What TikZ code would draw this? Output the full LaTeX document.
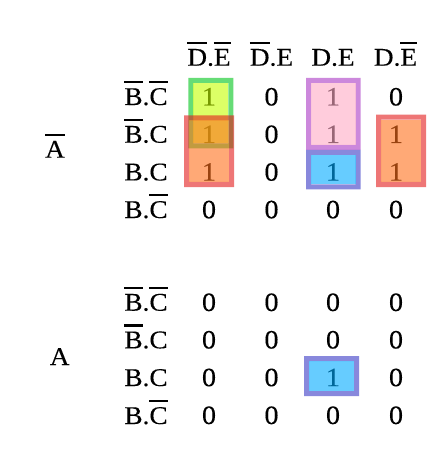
\documentclass[tikz,border=0pt]{standalone}
\usepackage{fontspec}
\setmainfont{Liberation Serif}[FakeStretch=1.07, FakeBold=0.2]
\newcommand\ob[1]{\leavevmode\vbox{\hrule height 2.3pt\kern 5pt\hbox{#1}}}
\definecolor{gfill}{RGB}{198,255,0}
\definecolor{gline}{RGB}{0,198,28}
\definecolor{ofill}{RGB}{255,113,28}
\definecolor{oline}{RGB}{227,28,28}
\definecolor{pfill}{RGB}{255,170,198}
\definecolor{pline}{RGB}{170,57,198}
\definecolor{bfill}{RGB}{0,170,255}
\definecolor{bline}{RGB}{57,57,198}
\newcommand\kbox[6]{%
  \fill[#6, fill opacity=0.6, even odd rule] (#1,#2) rectangle (#3,#4) (#1+5,#2+5) rectangle (#3-5,#4-5);
  \fill[#5, fill opacity=0.6] (#1+5,#2+5) rectangle (#3-5,#4-5);}
\begin{document}
\begin{tikzpicture}[x=1pt,y=-1pt,
  txt/.style={inner sep=0pt, anchor=base, font=\fontsize{25.5}{30}\selectfont},
  num/.style={inner sep=0pt, anchor=base, font=\fontsize{26.5}{30}\selectfont}]
\useasboundingbox (0,0) rectangle (442,462);
\fill[white] (0,0) rectangle (442,462);
% headers
\node[txt] (h1) at (209,65.7) {\ob{D}.\ob{E}};
\node[txt] (h2) at (271.5,65.7) {\ob{D}.E};
\node[txt] (h3) at (333,65.7) {D.E};
\node[txt] (h4) at (395.5,65.7) {D.\ob{E}};
% group labels
\node[txt] (na) at (55,157.7) {\ob{A}};
\node[txt] (a) at (59.7,365) {A};
% row labels
\foreach \y/\n in {105/1,310.7/5}{
  \node[txt] (r\n) at (146,\y) {\ob{B}.\ob{C}};}
\foreach \y/\n in {142.7/2,348.3/6}{
  \node[txt] (r\n) at (146,\y) {\ob{B}.C};}
\foreach \y/\n in {180.4/3,386/7}{
  \node[txt] (r\n) at (146,\y) {B.C};}
\foreach \y/\n in {218/4,424/8}{
  \node[txt] (r\n) at (146,\y) {B.\ob{C}};}
% cells
\foreach \row/\y/\va/\vb/\vc/\vd in {
  1/105.5/1/0/1/0, 2/143/1/0/1/1, 3/180.7/1/0/1/1, 4/218.3/0/0/0/0,
  5/311/0/0/0/0, 6/348.5/0/0/0/0, 7/386.2/0/0/1/0, 8/424/0/0/0/0}{
  \node[num] (c\row-1) at (209,\y) {\va};
  \node[num] (c\row-2) at (271.5,\y) {\vb};
  \node[num] (c\row-3) at (333,\y) {\vc};
  \node[num] (c\row-4) at (396,\y) {\vd};
}
% groupings
\kbox{188.3}{78}{233.3}{148.5}{gfill}{gline}
\kbox{184}{115.3}{234}{187}{ofill}{oline}
\kbox{306}{78}{360.7}{150}{pfill}{pline}
\kbox{306}{150}{360.7}{189.3}{bfill}{bline}
\kbox{376}{114.7}{426}{187}{ofill}{oline}
\kbox{304}{356}{359}{396}{bfill}{bline}
\end{tikzpicture}
\end{document}
